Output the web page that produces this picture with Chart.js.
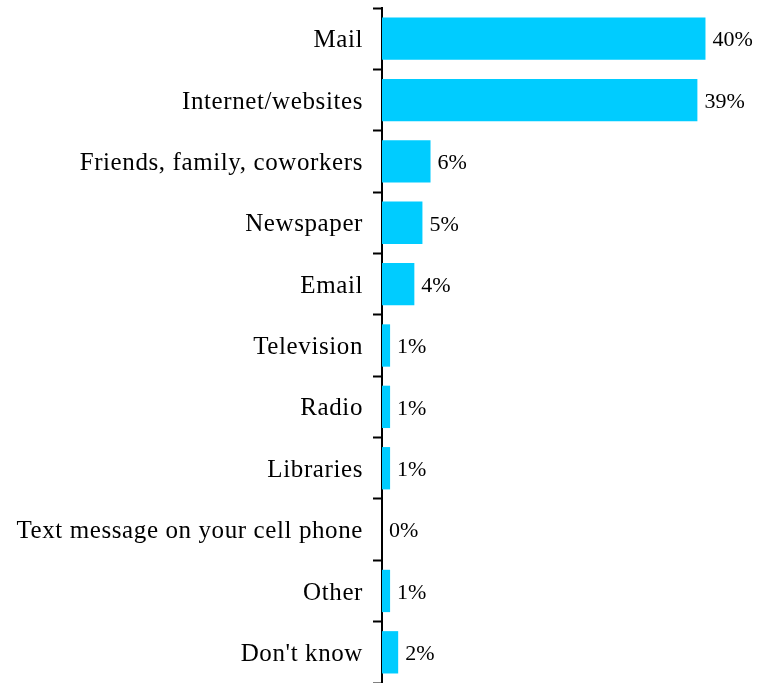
<!DOCTYPE html>
<html>
<head>
<meta charset="utf-8">
<script src="https://cdn.jsdelivr.net/npm/chart.js@4"></script>
<style>
  html, body { margin: 0; padding: 0; background: #fff; }
  canvas { display: block; }
</style>
</head>
<body>
<canvas id="sourcesChart" width="760" height="683"></canvas>
<script>
const categories = [
    'Mail', 'Internet/websites', 'Friends, family, coworkers', 'Newspaper', 'Email',
    'Television', 'Radio', 'Libraries', 'Text message on your cell phone', 'Other', "Don't know"
];
const percents = [40, 39, 6, 5, 4, 1, 1, 1, 0, 1, 2];

const serif = '"Liberation Serif", "Times New Roman", serif';

// slightly wider tracking for the category names, plain text for the rest
const tracking = {
    id: 'tracking',
    beforeDraw(chart) { chart.ctx.letterSpacing = '0.6px'; },
    beforeDatasetsDraw(chart) { chart.ctx.letterSpacing = '0px'; }
};

// writes "NN%" just past the end of each bar
const valueLabels = {
    id: 'valueLabels',
    afterDatasetsDraw(chart) {
        const ctx = chart.ctx;
        const meta = chart.getDatasetMeta(0);
        ctx.save();
        ctx.letterSpacing = '0px';
        ctx.font = '22px ' + serif;
        ctx.fillStyle = '#000';
        ctx.textAlign = 'left';
        ctx.textBaseline = 'middle';
        meta.data.forEach(function (bar, i) {
            ctx.fillText(percents[i] + '%', bar.x + 7, bar.y + 2);
        });
        ctx.restore();
    }
};

new Chart(document.getElementById('sourcesChart').getContext('2d'), {
    type: 'bar',
    data: {
        labels: categories,
        datasets: [{
            data: percents,
            backgroundColor: '#00CCFF',
            borderWidth: 0,
            barPercentage: 0.69,
            categoryPercentage: 1
        }]
    },
    options: {
        indexAxis: 'y',
        responsive: false,
        animation: false,
        layout: { padding: { top: 8, right: 6, bottom: 0, left: 0 } },
        plugins: {
            legend: { display: false },
            tooltip: { enabled: false }
        },
        scales: {
            x: {
                display: false,
                min: 0,
                max: 46
            },
            y: {
                afterFit(scale) {
                    scale.width = 382;
                    scale.paddingTop = 0;
                    scale.paddingBottom = 0;
                },
                grid: {
                    offset: true,
                    drawOnChartArea: false,
                    drawTicks: true,
                    tickLength: 9,
                    tickWidth: 2,
                    color: '#000'
                },
                border: { display: true, color: '#000', width: 2 },
                ticks: {
                    color: '#000',
                    padding: 10,
                    labelOffset: 2,
                    font: { family: serif, size: 25 }
                }
            }
        }
    },
    plugins: [tracking, valueLabels]
});
</script>
</body>
</html>
